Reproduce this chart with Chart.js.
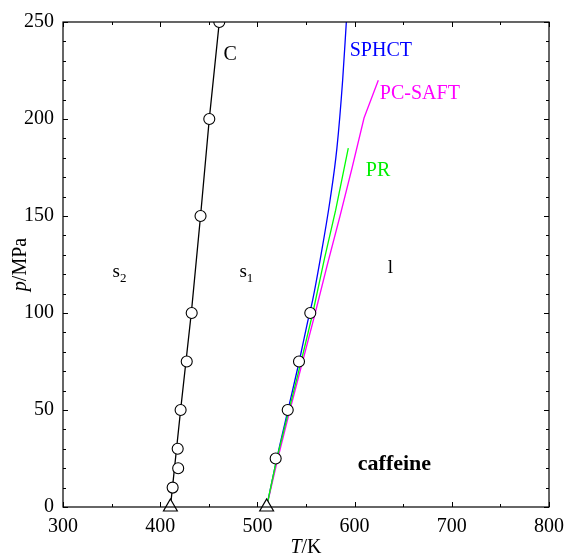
<!DOCTYPE html>
<html>
<head>
<meta charset="utf-8">
<script src="https://cdn.jsdelivr.net/npm/chart.js@4.4.1/dist/chart.umd.min.js"></script>
<style>
  html, body { margin: 0; padding: 0; background: #fff; }
  #wrap { width: 567px; height: 557px; }
</style>
</head>
<body>
<div id="wrap"><canvas id="myChart"></canvas></div>
<script>
// axis ticks
const xTicks = [300, 400, 500, 600, 700, 800];
const yTicks = [0, 50, 100, 150, 200, 250];

// solid-solid transition line C and its data points
const transLineT = [410.5, 421, 432, 441.5, 450.5, 460.8];
const transLineP = [0, 50, 100, 150, 200, 250];
const transExpT = [412.8, 418.5, 418, 421, 427.3, 432.4, 441.5, 450.5, 460.8];
const transExpP = [10, 20, 30, 50, 75, 100, 150, 200, 250];

// melting line data points
const meltExpT = [518.8, 531.2, 542.8, 554.4];
const meltExpP = [25, 50, 75, 100];

// points at ambient pressure (triangles)
const ambientT = [410.5, 509.5];
const ambientP = [0, 0];

// model curves
const sphctT = [509.5, 520, 531.5, 543, 551.5, 557, 564.4, 574.7, 581.8, 587.7, 591.5];
const sphctP = [0, 25, 50, 75, 95, 107, 127, 158, 185, 220, 250];
const pcsaftT = [509.5, 521, 533.5, 546.5, 559.5, 572, 585, 597.5, 609.7, 624.4];
const pcsaftP = [0, 25, 50, 75, 100, 125, 150, 175, 200.5, 220];
const prT = [509.5, 520, 532.5, 545, 557, 569, 580.5, 593.5];
const prP = [0, 25, 50, 75, 100, 128, 153, 185];

const FONT = "'Liberation Serif', 'Times New Roman', serif";
const FS = 20;

const toXY = (ts, ps) => ts.map((t, i) => ({ x: t, y: ps[i] }));

const lineSet = (label, ts, ps, color, order, smooth) => ({
  label,
  data: toXY(ts, ps),
  showLine: true,
  borderColor: color,
  borderWidth: 1.3,
  pointRadius: 0,
  fill: false,
  cubicInterpolationMode: smooth ? "monotone" : "default",
  tension: 0,
  order
});

// text labels placed in data coordinates
const labels = [
  { text: "C", t: 465, p: 233, color: "#000" },
  { text: "SPHCT", t: 595, p: 235, color: "#0000ff" },
  { text: "PC-SAFT", t: 626, p: 213, color: "#ff00ff" },
  { text: "PR", t: 611.5, p: 173.3, color: "#00ee00" }
];

const framePlugin = {
  id: "framePlugin",
  afterDatasetsDraw(chart) {
    const { ctx, scales: { x, y } } = chart;
    ctx.save();
    ctx.textBaseline = "middle";
    ctx.textAlign = "left";
    labels.forEach(l => {
      ctx.font = FS + "px " + FONT;
      ctx.fillStyle = l.color;
      ctx.fillText(l.text, x.getPixelForValue(l.t), y.getPixelForValue(l.p));
    });

    // phase labels
    ctx.fillStyle = "#000";
    const sub = (main, s, t, p) => {
      const px = x.getPixelForValue(t);
      const py = y.getPixelForValue(p);
      ctx.font = "19px " + FONT;
      ctx.textAlign = "left";
      ctx.fillText(main, px, py);
      const w = ctx.measureText(main).width;
      ctx.font = "13px " + FONT;
      ctx.fillText(s, px + w, py + 6);
    };
    sub("s", "2", 351, 121);
    sub("s", "1", 481.5, 121);
    ctx.font = "19px " + FONT;
    ctx.fillText("l", x.getPixelForValue(634), y.getPixelForValue(123));
    ctx.font = "bold 22px " + FONT;
    ctx.textAlign = "center";
    ctx.fillText("caffeine", x.getPixelForValue(641), y.getPixelForValue(22));
    ctx.restore();
  },
  afterDraw(chart) {
    const { ctx, chartArea: a, scales: { x, y } } = chart;
    ctx.save();
    ctx.strokeStyle = "#000";
    ctx.lineWidth = 1.2;
    ctx.strokeRect(a.left, a.top, a.right - a.left, a.bottom - a.top);
    ctx.lineWidth = 1;
    const seg = (x1, y1, x2, y2) => {
      ctx.beginPath();
      ctx.moveTo(x1, y1);
      ctx.lineTo(x2, y2);
      ctx.stroke();
    };
    for (let t = 300; t <= 800; t += 50) {
      const px = Math.round(x.getPixelForValue(t)) + 0.5;
      const len = t % 100 === 0 ? 5 : 3;
      seg(px, a.bottom, px, a.bottom - len);
      seg(px, a.top, px, a.top + len);
    }
    for (let p = 0; p <= 250; p += 10) {
      const py = Math.round(y.getPixelForValue(p)) + 0.5;
      const len = p % 50 === 0 ? 5 : 3;
      seg(a.left, py, a.left + len, py);
      seg(a.right, py, a.right - len, py);
    }

    // axis titles with italic symbols
    ctx.fillStyle = "#000";
    ctx.textBaseline = "alphabetic";
    ctx.textAlign = "left";
    ctx.font = "italic " + FS + "px " + FONT;
    const tW = ctx.measureText("T").width;
    ctx.font = FS + "px " + FONT;
    const kW = ctx.measureText("/K").width;
    let sx = (a.left + a.right) / 2 - (tW + kW) / 2;
    ctx.font = "italic " + FS + "px " + FONT;
    ctx.fillText("T", sx, 553);
    ctx.font = FS + "px " + FONT;
    ctx.fillText("/K", sx + tW, 553);

    ctx.translate(26, (a.top + a.bottom) / 2);
    ctx.rotate(-Math.PI / 2);
    ctx.font = "italic " + FS + "px " + FONT;
    const pW = ctx.measureText("p").width;
    ctx.font = FS + "px " + FONT;
    const mW = ctx.measureText("/MPa").width;
    sx = -(pW + mW) / 2;
    ctx.font = "italic " + FS + "px " + FONT;
    ctx.fillText("p", sx, 0);
    ctx.font = FS + "px " + FONT;
    ctx.fillText("/MPa", sx + pW, 0);
    ctx.restore();
  }
};

new Chart(document.getElementById("myChart").getContext("2d"), {
  type: "scatter",
  data: {
    datasets: [
      {
        label: "ambient",
        data: toXY(ambientT, ambientP),
        pointStyle: "triangle",
        pointRadius: 8,
        backgroundColor: "#fff",
        borderColor: "#000",
        borderWidth: 1.2,
        clip: false,
        order: 0
      },
      {
        label: "transition exp",
        data: toXY(transExpT, transExpP),
        pointRadius: 5.5,
        backgroundColor: "#fff",
        borderColor: "#000",
        borderWidth: 1.1,
        clip: 0,
        order: 1
      },
      {
        label: "melting exp",
        data: toXY(meltExpT, meltExpP),
        pointRadius: 5.5,
        backgroundColor: "#fff",
        borderColor: "#000",
        borderWidth: 1.1,
        clip: 0,
        order: 1
      },
      lineSet("C", transLineT, transLineP, "#000", 2, false),
      lineSet("PR", prT, prP, "#00ff00", 3, false),
      lineSet("PC-SAFT", pcsaftT, pcsaftP, "#ff00ff", 4, false),
      lineSet("SPHCT", sphctT, sphctP, "#0000ff", 5, true)
    ]
  },
  options: {
    responsive: true,
    maintainAspectRatio: false,
    animation: false,
    layout: { padding: { top: 22, right: 18, left: 0, bottom: 0 } },
    plugins: {
      legend: { display: false },
      tooltip: { enabled: false }
    },
    scales: {
      x: {
        type: "linear",
        min: 300,
        max: 800,
        afterBuildTicks: scale => { scale.ticks = xTicks.map(v => ({ value: v })); },
        afterFit: scale => {
          scale.height = 50;
          scale.paddingLeft = 0;
          scale.paddingRight = 0;
        },
        grid: { display: false, drawTicks: false },
        border: { display: false },
        ticks: {
          color: "#000",
          padding: 8,
          font: { family: FONT, size: FS }
        }
      },
      y: {
        type: "linear",
        min: 0,
        max: 250,
        afterBuildTicks: scale => { scale.ticks = yTicks.map(v => ({ value: v })); },
        afterFit: scale => { scale.width = 63; },
        grid: { display: false, drawTicks: false },
        border: { display: false },
        ticks: {
          color: "#000",
          padding: 9,
          font: { family: FONT, size: FS }
        }
      }
    }
  },
  plugins: [framePlugin]
});
</script>
</body>
</html>
